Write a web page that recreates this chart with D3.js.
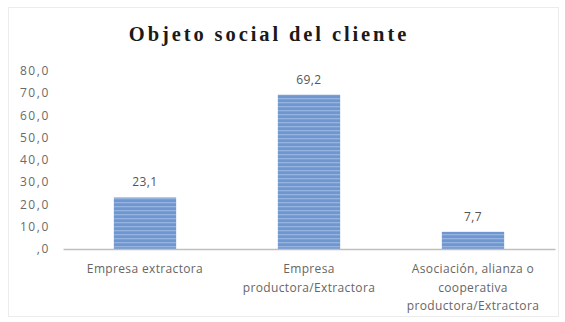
<!DOCTYPE html>
<html>
<head>
<meta charset="utf-8">
<script src="https://cdn.jsdelivr.net/npm/d3@7"></script>
<style>
  html, body { margin: 0; padding: 0; background: #fff; }
  svg { display: block; }
</style>
</head>
<body>
<svg id="chart" width="565" height="322"></svg>
<script>
// Chart data
const titleText = "Objeto social del cliente";
const categories = [
  ["Empresa extractora"],
  ["Empresa", "productora/Extractora"],
  ["Asociación, alianza o", "cooperativa", "productora/Extractora"]
];
const values = [23.1, 69.2, 7.7];
const yTicks = [0, 10, 20, 30, 40, 50, 60, 70, 80];

const svg = d3.select("#chart");

// Spanish number format: comma as decimal separator
const loc = d3.formatLocale({ decimal: ",", thousands: ".", grouping: [3], currency: ["", "€"] });
const fmt1 = loc.format(".1f");
const tickFmt = v => v === 0 ? ",0" : fmt1(v);

const labelFont = "'Open Sans', Lato, sans-serif";

// Striped fill for the bars
const defs = svg.append("defs");
const pat = defs.append("pattern")
  .attr("id", "stripes")
  .attr("patternUnits", "userSpaceOnUse")
  .attr("width", 8).attr("height", 4);
pat.append("rect").attr("width", 8).attr("height", 4).attr("fill", "#7096d0");
pat.append("rect").attr("y", 2).attr("width", 8).attr("height", 1.3).attr("fill", "#95b3e0");

// Chart area frame
svg.append("rect")
  .attr("x", 8.5).attr("y", 7.5).attr("width", 550).attr("height", 309)
  .attr("fill", "#fff").attr("stroke", "#ececec").attr("stroke-width", 1);

// Title
svg.append("text")
  .attr("x", 269).attr("y", 41)
  .attr("text-anchor", "middle")
  .attr("font-family", "'Liberation Serif', 'DejaVu Serif', serif")
  .attr("font-weight", "bold")
  .attr("font-size", 20.5)
  .attr("letter-spacing", 2.9)
  .attr("fill", "#1a1a1a")
  .text(titleText);

// Scales
const x = d3.scaleBand()
  .domain(d3.range(values.length))
  .range([63, 555])
  .paddingInner(0.62)
  .paddingOuter(0.31);

const y = d3.scaleLinear().domain([0, 80]).range([249, 70.6]);

// Y axis labels (no axis line)
const yAxis = svg.append("g")
  .attr("transform", "translate(50,0)")
  .call(d3.axisLeft(y).tickValues(yTicks).tickFormat(tickFmt).tickSize(0).tickPadding(0));
yAxis.select(".domain").remove();
yAxis.selectAll("text")
  .attr("font-family", labelFont)
  .attr("font-size", 12)
  .attr("letter-spacing", 1.6)
  .attr("fill", "#6a6a6a");

// Bars
svg.append("g").selectAll("rect")
  .data(values)
  .join("rect")
  .attr("x", (d, i) => x(i))
  .attr("y", d => y(d))
  .attr("width", x.bandwidth())
  .attr("height", d => y(0) - y(d))
  .attr("fill", "url(#stripes)");

// Value labels
svg.append("g").selectAll("text")
  .data(values)
  .join("text")
  .attr("x", (d, i) => x(i) + x.bandwidth() / 2)
  .attr("y", d => y(d) - 11)
  .attr("text-anchor", "middle")
  .attr("font-family", labelFont)
  .attr("font-size", 12)
  .attr("letter-spacing", 0.4)
  .attr("fill", "#555")
  .text(d => fmt1(d));

// X axis baseline
const xAxis = svg.append("g")
  .attr("transform", `translate(0,${y(0)})`)
  .call(d3.axisBottom(x).tickSize(0).tickFormat(""));
xAxis.select(".domain")
  .attr("stroke", "#bfbfbf")
  .attr("stroke-width", 1.5);

// Category labels (multi-line)
const catG = svg.append("g").selectAll("text")
  .data(categories)
  .join("text")
  .attr("text-anchor", "middle")
  .attr("font-family", labelFont)
  .attr("font-size", 12)
  .attr("letter-spacing", 0.35)
  .attr("fill", "#666");
catG.each(function(lines, i) {
  const t = d3.select(this);
  lines.forEach((ln, k) => {
    t.append("tspan")
      .attr("x", x(i) + x.bandwidth() / 2)
      .attr("y", 273 + k * 18.5)
      .text(ln);
  });
});
</script>
</body>
</html>
